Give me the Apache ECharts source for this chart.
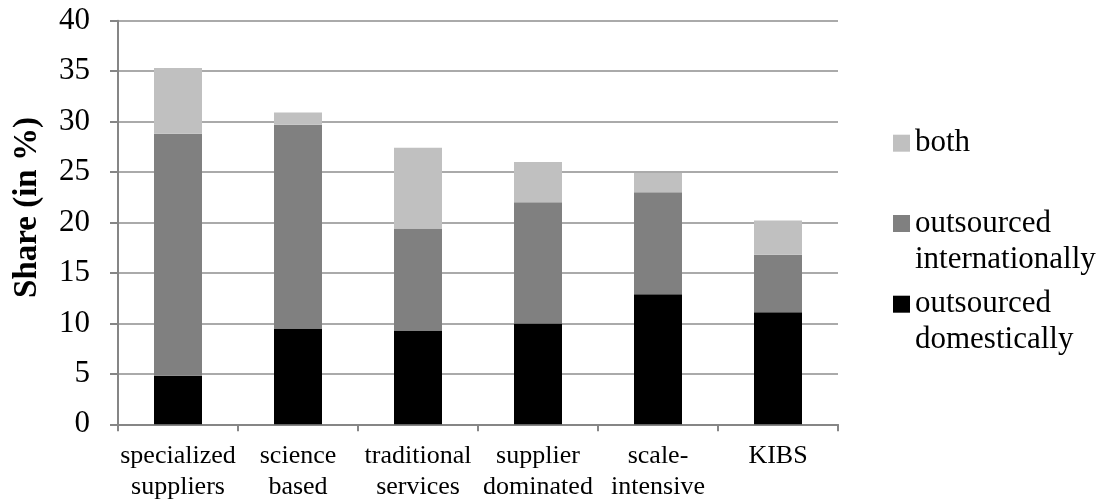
<!DOCTYPE html>
<html>
<head>
<meta charset="utf-8">
<script src="https://cdn.jsdelivr.net/npm/echarts@6/dist/echarts.min.js"></script>
<style>
  html, body { margin: 0; padding: 0; background: #ffffff; }
  #chart { width: 1102px; height: 504px; }
</style>
</head>
<body>
<div id="chart"></div>
<script>
// Sector categories (two-line axis labels)
const categories = [
  'specialized\nsuppliers',
  'science\nbased',
  'traditional\nservices',
  'supplier\ndominated',
  'scale-\nintensive',
  'KIBS'
];

// Shares in %, stacked from bottom to top
const outsourcedDomestically = [4.8, 9.5, 9.3, 10.0, 12.9, 11.1];
const outsourcedInternationally = [24.0, 20.2, 10.1, 12.0, 10.1, 5.7];
const both = [6.5, 1.2, 8.0, 4.0, 1.9, 3.4];

// Value axis range and step
const yMin = 0;
const yMax = 40;
const yStep = 5;

const FONT = '"Liberation Serif", "Times New Roman", serif';
const AXIS_GRAY = '#868686';
const GRID_GRAY = '#8e8e8e';

const chart = echarts.init(document.getElementById('chart'), null, { renderer: 'canvas' });

// One legend block per series so each icon sits beside the first text line
function legendFor(name, top, text) {
  return {
    data: [name],
    orient: 'vertical',
    left: 893,
    top: top,
    padding: 0,
    icon: 'rect',
    itemWidth: 17,
    itemHeight: 17,
    selectedMode: false,
    formatter: function () { return text; },
    textStyle: {
      fontFamily: FONT,
      color: '#000',
      rich: {
        t: { fontFamily: FONT, fontSize: 31, lineHeight: 36, color: '#000' },
        g: { fontFamily: FONT, fontSize: 31, lineHeight: 36 }
      }
    }
  };
}

const option = {
  backgroundColor: '#ffffff',
  animation: false,
  textStyle: { fontFamily: FONT },
  grid: {
    left: 118,
    right: 264,
    top: 20.7,
    bottom: 79.7,
    containLabel: false
  },
  legend: [
    legendFor('both', 127.7, '{t|both}'),
    legendFor('outsourced internationally', 172, '{g| }\n{t|outsourced}\n{t|internationally}'),
    legendFor('outsourced domestically', 252.7, '{g| }\n{t|outsourced}\n{t|domestically}')
  ],
  xAxis: {
    type: 'category',
    data: categories,
    boundaryGap: true,
    axisLine: { show: true, lineStyle: { color: AXIS_GRAY, width: 2 } },
    axisTick: { show: true, length: 7, inside: false, lineStyle: { color: AXIS_GRAY, width: 2 } },
    axisLabel: {
      interval: 0,
      margin: 16,
      color: '#000',
      fontFamily: FONT,
      fontSize: 26,
      lineHeight: 31,
      verticalAlign: 'top'
    },
    splitLine: { show: false }
  },
  yAxis: {
    type: 'value',
    min: yMin,
    max: yMax,
    interval: yStep,
    name: 'Share (in %)',
    nameLocation: 'middle',
    nameGap: 74,
    nameTextStyle: {
      fontFamily: FONT,
      fontSize: 33,
      fontWeight: 'bold',
      color: '#000',
      padding: [0, 0, 0, 30]
    },
    axisLine: { show: true, lineStyle: { color: AXIS_GRAY, width: 2 } },
    axisTick: { show: true, length: 8, inside: false, lineStyle: { color: AXIS_GRAY, width: 2 } },
    axisLabel: {
      margin: 28,
      color: '#000',
      fontFamily: FONT,
      fontSize: 31
    },
    splitLine: { show: true, lineStyle: { color: GRID_GRAY, width: 1.5 } }
  },
  series: [
    {
      name: 'outsourced domestically',
      type: 'bar',
      stack: 'share',
      data: outsourcedDomestically,
      barWidth: '40%',
      itemStyle: { color: '#000000' }
    },
    {
      name: 'outsourced internationally',
      type: 'bar',
      stack: 'share',
      data: outsourcedInternationally,
      barWidth: '40%',
      itemStyle: { color: '#808080' }
    },
    {
      name: 'both',
      type: 'bar',
      stack: 'share',
      data: both,
      barWidth: '40%',
      itemStyle: { color: '#c0c0c0' }
    }
  ]
};

chart.setOption(option);
</script>
</body>
</html>
